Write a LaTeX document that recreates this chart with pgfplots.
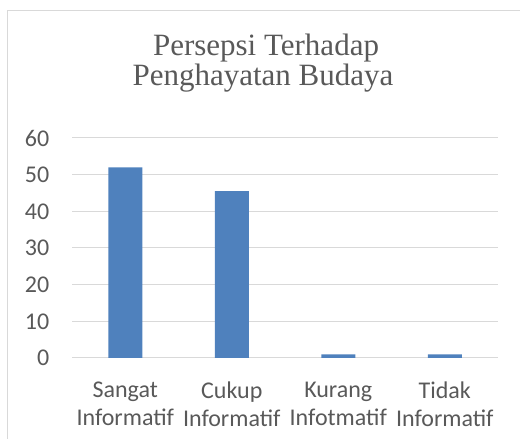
\documentclass[border=0pt]{standalone}
\usepackage{pgfplots}
\pgfplotsset{compat=1.18}
\usepackage{fontspec}
\setmainfont{Carlito}
\newfontfamily\titlefont{Liberation Serif}
\definecolor{txtgray}{HTML}{595959}
\definecolor{gridgray}{HTML}{D9D9D9}
\definecolor{barblue}{HTML}{4F81BD}
\begin{document}
\fontsize{24bp}{28bp}\selectfont
\begin{tikzpicture}[x=1bp,y=1bp]
\useasboundingbox (0,0) rectangle (520,439);
\draw[gridgray, line width=1bp] (7,0) -- (7,428) -- (520,428);
\node[anchor=base, text=txtgray, font=\titlefont\fontsize{31bp}{36bp}\selectfont, inner sep=0, text depth=0pt] at (266,383.5) {Persepsi Terhadap};
\node[anchor=base, text=txtgray, font=\titlefont\fontsize{31bp}{36bp}\selectfont, inner sep=0] at (263,353) {Penghayatan Budaya};
\begin{axis}[
  at={(72bp,81bp)}, anchor=south west,
  scale only axis, width=426bp, height=220bp,
  xmin=-0.5, xmax=3.5, ymin=0, ymax=60,
  axis line style={draw=none},
  ymajorgrids, grid style={gridgray, line width=1bp},
  major tick length=0,
  ytick={0,10,...,60},
  xtick={0,1,2,3},
  xticklabels={Sangat\\Informatif, Cukup\\Informatif, Kurang\\Infotmatif, Tidak\\Informatif},
  xticklabel style={align=center, anchor=north, inner sep=0pt, yshift=-24bp, text=txtgray, font=\fontsize{24bp}{28bp}\selectfont},
  yticklabel style={anchor=east, inner sep=0pt, xshift=-22.5bp, text=txtgray, font=\fontsize{24bp}{28bp}\selectfont},
  /pgf/number format/assume math mode=true,
  ybar, bar width=34bp,
  clip=false,
]
\addplot[fill=barblue, draw=none] coordinates {(0,52) (1,45.5) (2,1) (3,1)};
\end{axis}
\end{tikzpicture}
\end{document}
